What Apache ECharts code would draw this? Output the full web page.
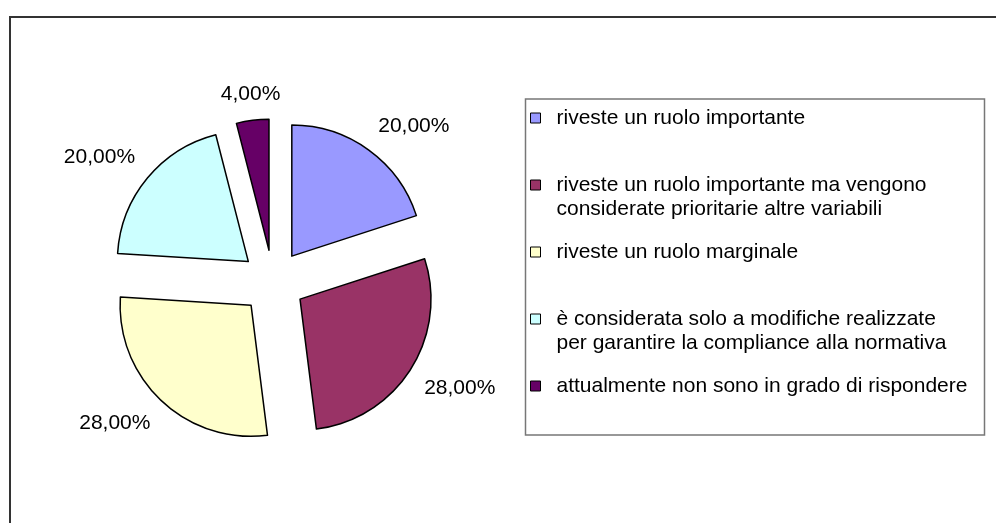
<!DOCTYPE html>
<html>
<head>
<meta charset="utf-8">
<script src="https://cdn.jsdelivr.net/npm/echarts@6/dist/echarts.min.js"></script>
<style>
  html, body { margin: 0; padding: 0; background: #fff; }
  #main { width: 996px; height: 523px; }
</style>
</head>
<body>
<div id="main"></div>
<script>
// categorie (con a capo come nella legenda)
const categories = [
  'riveste un ruolo importante',
  'riveste un ruolo importante ma vengono\nconsiderate prioritarie altre variabili',
  'riveste un ruolo marginale',
  'è considerata solo a modifiche realizzate\nper garantire la compliance alla normativa',
  'attualmente non sono in grado di rispondere'
];
const values = [20, 28, 28, 20, 4];
const colors = ['#9999FF', '#993366', '#FFFFCC', '#CCFFFF', '#660066'];

const total = values.reduce((a, b) => a + b, 0);
const FONT = 'Liberation Sans, Arial, sans-serif';

// angolo medio di ogni fetta (da ore 12, senso orario)
let cum = 0;
const midAngles = values.map(v => {
  const m = (cum + v / 2) / total * 2 * Math.PI;
  cum += v;
  return m;
});

const pieData = values.map((v, i) => ({
  name: categories[i],
  value: v,
  selected: true,
  itemStyle: { color: colors[i] }
}));

const chart = echarts.init(document.getElementById('main'), null, { renderer: 'canvas' });
chart.setOption({
  animation: false,
  backgroundColor: '#fff',
  graphic: [
    {
      type: 'rect',
      shape: { x: 10, y: 17, width: 1000, height: 520 },
      style: { fill: 'none', stroke: '#333', lineWidth: 2 },
      silent: true
    },
    {
      type: 'rect',
      shape: { x: 525.5, y: 99, width: 459, height: 336 },
      style: { fill: 'none', stroke: '#777', lineWidth: 1.5 },
      silent: true
    }
  ],
  legend: {
    orient: 'vertical',
    left: 530,
    top: 106,
    padding: 0,
    itemGap: 19,
    itemWidth: 10,
    itemHeight: 10,
    icon: 'rect',
    selectedMode: false,
    itemStyle: { borderColor: '#000', borderWidth: 1 },
    // riga vuota sopra: l'icona resta allineata alla prima riga
    formatter: name => name.indexOf('\n') >= 0 ? ' \n' + name : name,
    textStyle: { color: '#000', fontFamily: FONT, fontSize: 21, lineHeight: 24, padding: [0, 0, 0, 11] },
    data: categories
  },
  series: [
    {
      type: 'pie',
      center: [273, 282],
      radius: 131,
      startAngle: 90,
      clockwise: true,
      selectedMode: 'multiple',
      selectedOffset: 32,
      avoidLabelOverlap: false,
      itemStyle: { borderColor: '#000', borderWidth: 1.5 },
      select: { itemStyle: { borderColor: '#000', borderWidth: 1.5 } },
      emphasis: { disabled: true },
      label: {
        show: true,
        position: 'outside',
        color: '#000',
        fontFamily: FONT,
        fontSize: 21,
        distanceToLabelLine: 0,
        formatter: p => (p.value / total * 100).toFixed(2).replace('.', ',') + '%'
      },
      labelLine: { show: false, length: 16, length2: 0 },
      labelLayout: p => {
        const a = midAngles[p.dataIndex];
        const res = { verticalAlign: Math.cos(a) > 0 ? 'bottom' : 'top' };
        if (Math.abs(Math.sin(a)) < 0.3) res.align = 'center';
        return res;
      },
      data: pieData
    }
  ]
});
</script>
</body>
</html>
